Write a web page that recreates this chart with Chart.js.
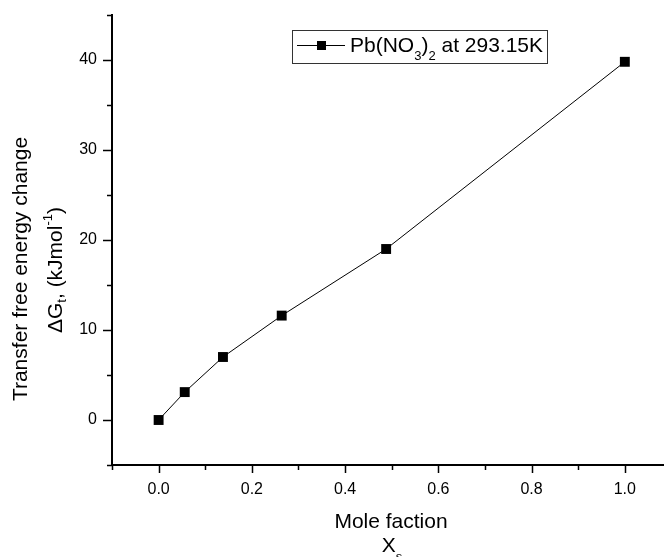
<!DOCTYPE html>
<html>
<head>
<meta charset="utf-8">
<script src="https://cdn.jsdelivr.net/npm/chart.js@4/dist/chart.umd.min.js"></script>
<style>
    html, body { margin: 0; padding: 0; background: #fff; }
    #wrap { width: 664px; height: 557px; }
</style>
</head>
<body>
<div id="wrap"><canvas id="graficoEnergia" width="664" height="557"></canvas></div>
<script>
// Datos
const moleFraction = [0, 0.056, 0.138, 0.264, 0.488, 1.0];
const deltaG = [0, 3.1, 7.0, 11.6, 19.0, 39.8];

const xMajorTicks = [0, 0.2, 0.4, 0.6, 0.8, 1.0];
const xMinorTicks = [-0.1, 0.1, 0.3, 0.5, 0.7, 0.9];
const yMajorTicks = [0, 10, 20, 30, 40];
const yMinorTicks = [-5, 5, 15, 25, 35, 45];

const FONT = "'Liberation Sans', Arial, sans-serif";

// dibuja un texto compuesto (subíndices / superíndices) centrado en (cx, cy)
function drawParts(ctx, parts, cx, cy, align) {
    let total = 0;
    parts.forEach(p => {
        ctx.font = p.size + 'px ' + FONT;
        p.w = ctx.measureText(p.t).width;
        total += p.w;
    });
    let x = align === 'left' ? cx : cx - total / 2;
    parts.forEach(p => {
        ctx.font = p.size + 'px ' + FONT;
        ctx.fillText(p.t, x, cy + (p.dy || 0));
        x += p.w;
    });
}

const extras = {
    id: 'extras',
    afterDraw(chart) {
        const ctx = chart.ctx;
        const sx = chart.scales.x;
        const sy = chart.scales.y;
        const area = chart.chartArea;
        ctx.save();
        ctx.strokeStyle = '#000';
        ctx.fillStyle = '#000';
        ctx.lineWidth = 1.5;

        // marcas de los ejes
        ctx.beginPath();
        xMajorTicks.forEach(v => {
            const px = Math.round(sx.getPixelForValue(v)) + 0.5;
            ctx.moveTo(px, area.bottom); ctx.lineTo(px, area.bottom + 8);
        });
        xMinorTicks.forEach(v => {
            const px = Math.round(sx.getPixelForValue(v)) + 0.5;
            ctx.moveTo(px, area.bottom); ctx.lineTo(px, area.bottom + 5);
        });
        yMajorTicks.forEach(v => {
            const py = Math.round(sy.getPixelForValue(v)) + 0.5;
            ctx.moveTo(area.left, py); ctx.lineTo(area.left - 9, py);
        });
        yMinorTicks.forEach(v => {
            const py = Math.round(sy.getPixelForValue(v)) + 0.5;
            ctx.moveTo(area.left, py); ctx.lineTo(area.left - 5, py);
        });
        ctx.stroke();

        ctx.textBaseline = 'alphabetic';

        // título eje X
        drawParts(ctx, [{ t: 'Mole faction', size: 21 }], 391, 528);
        drawParts(ctx, [{ t: 'X', size: 21 }, { t: 's', size: 13, dy: 9 }], 392, 552);

        // título eje Y (dos líneas, rotado)
        ctx.save();
        ctx.translate(27, 269);
        ctx.rotate(-Math.PI / 2);
        drawParts(ctx, [{ t: 'Transfer free energy change', size: 21 }], 0, 0);
        ctx.restore();

        ctx.save();
        ctx.translate(62, 270);
        ctx.rotate(-Math.PI / 2);
        drawParts(ctx, [
            { t: '\u0394G', size: 21 },
            { t: 't', size: 13, dy: 4 },
            { t: ', (kJmol', size: 21 },
            { t: '-1', size: 13, dy: -10 },
            { t: ')', size: 21 }
        ], 0, 0);
        ctx.restore();

        // leyenda
        ctx.lineWidth = 1;
        ctx.strokeStyle = '#333';
        ctx.strokeRect(292.5, 30.5, 255, 33);
        ctx.strokeStyle = '#000';
        ctx.beginPath();
        ctx.moveTo(297, 45.5); ctx.lineTo(345, 45.5);
        ctx.stroke();
        ctx.fillRect(317, 41, 9, 9);
        drawParts(ctx, [
            { t: 'Pb(NO', size: 21 },
            { t: '3', size: 13, dy: 8 },
            { t: ')', size: 21 },
            { t: '2', size: 13, dy: 8 },
            { t: ' at 293.15K', size: 21 }
        ], 350, 52, 'left');

        ctx.restore();
    }
};

const ctxEnergia = document.getElementById('graficoEnergia').getContext('2d');
new Chart(ctxEnergia, {
    type: 'scatter',
    data: {
        datasets: [{
            label: 'Pb(NO3)2 at 293.15K',
            data: moleFraction.map((x, i) => ({ x: x, y: deltaG[i] })),
            showLine: true,
            borderColor: '#000',
            borderWidth: 1,
            backgroundColor: '#000',
            pointStyle: 'rect',
            pointRadius: 7,
            pointBorderWidth: 0
        }]
    },
    options: {
        responsive: false,
        animation: false,
        layout: { autoPadding: false, padding: { top: 15, left: 0, right: 0, bottom: 0 } },
        plugins: {
            legend: { display: false },
            tooltip: { enabled: false }
        },
        scales: {
            x: {
                type: 'linear',
                min: -0.1,
                max: 1.084,
                afterBuildTicks: scale => {
                    scale.ticks = xMinorTicks.concat(xMajorTicks).sort((a, b) => a - b).map(v => ({ value: v }));
                },
                afterFit: scale => {
                    scale.height = 92;
                    scale.paddingLeft = 0;
                    scale.paddingRight = 0;
                },
                grid: { display: false, drawTicks: false },
                border: { display: true, color: '#000', width: 2 },
                ticks: {
                    color: '#000',
                    padding: 15,
                    maxRotation: 0,
                    autoSkip: false,
                    font: { family: FONT, size: 16 },
                    callback: v => xMajorTicks.some(m => Math.abs(m - v) < 1e-6) ? v.toFixed(1) : ''
                }
            },
            y: {
                min: -5,
                max: 45,
                afterBuildTicks: scale => {
                    scale.ticks = yMinorTicks.concat(yMajorTicks).sort((a, b) => a - b).map(v => ({ value: v }));
                },
                afterFit: scale => {
                    scale.width = 112;
                    scale.paddingTop = 0;
                    scale.paddingBottom = 0;
                },
                grid: { display: false, drawTicks: false },
                border: { display: true, color: '#000', width: 2 },
                ticks: {
                    color: '#000',
                    padding: 15,
                    autoSkip: false,
                    font: { family: FONT, size: 16 },
                    callback: v => yMajorTicks.includes(v) ? String(v) : ''
                }
            }
        }
    },
    plugins: [extras]
});
</script>
</body>
</html>
